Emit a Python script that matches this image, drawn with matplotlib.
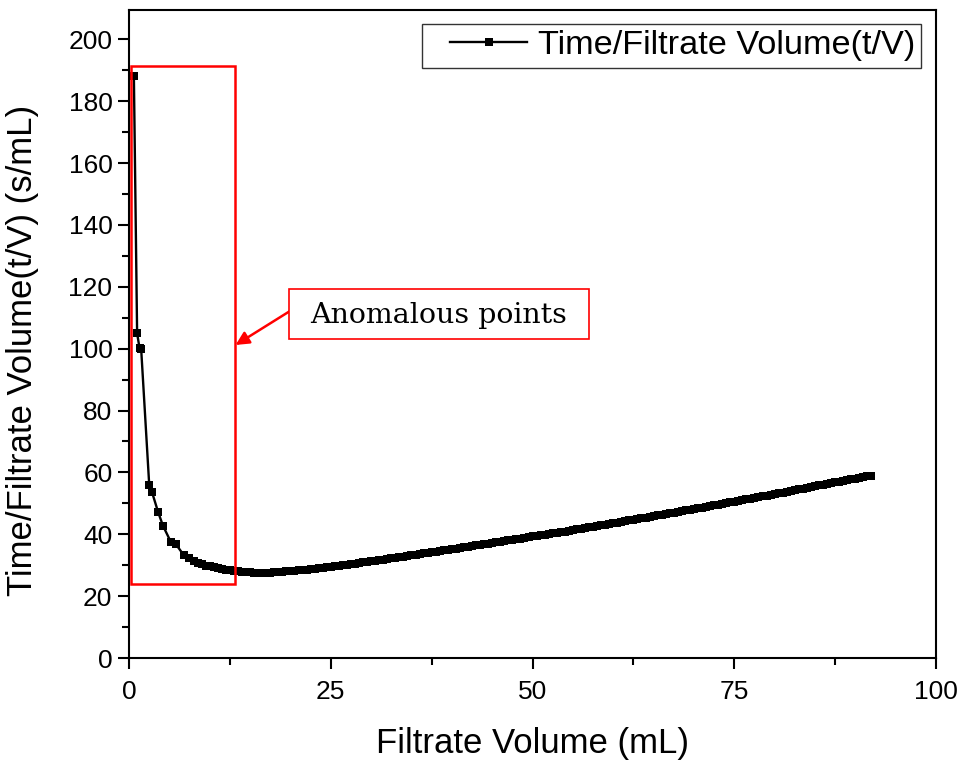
import matplotlib
matplotlib.use("Agg")
import matplotlib.pyplot as plt
from matplotlib.ticker import MultipleLocator
from matplotlib.patches import Rectangle
from matplotlib.legend_handler import HandlerLine2D

# Filtrate volume (mL) and t/V (s/mL)
volume_early = [0.6, 1.0, 1.3, 1.5, 2.5, 2.85, 3.6, 4.2, 5.2, 5.8, 6.8, 7.4, 8.0, 8.5]
tv_early = [188.0, 105.0, 100.2, 100.0, 56.0, 53.6, 47.2, 42.8, 37.4, 36.8, 33.2, 32.2,
            31.4, 30.8]

volume_late = [
    9.0, 9.5, 10.0, 10.5, 11.0, 11.5, 12.0, 12.5, 13.0, 13.5, 14.0, 14.5, 15.0, 15.5,
    16.0, 16.5, 17.0, 17.5, 18.0, 18.5, 19.0, 19.5, 20.0, 20.5, 21.0, 21.5, 22.0, 22.5,
    23.0, 23.5, 24.0, 24.5, 25.0, 25.5, 26.0, 26.5, 27.0, 27.5, 28.0, 28.5, 29.0, 29.5,
    30.0, 30.5, 31.0, 31.5, 32.0, 32.5, 33.0, 33.5, 34.0, 34.5, 35.0, 35.5, 36.0, 36.5,
    37.0, 37.5, 38.0, 38.5, 39.0, 39.5, 40.0, 40.5, 41.0, 41.5, 42.0, 42.5, 43.0, 43.5,
    44.0, 44.5, 45.0, 45.5, 46.0, 46.5, 47.0, 47.5, 48.0, 48.5, 49.0, 49.5, 50.0, 50.5,
    51.0, 51.5, 52.0, 52.5, 53.0, 53.5, 54.0, 54.5, 55.0, 55.5, 56.0, 56.5, 57.0, 57.5,
    58.0, 58.5, 59.0, 59.5, 60.0, 60.5, 61.0, 61.5, 62.0, 62.5, 63.0, 63.5, 64.0, 64.5,
    65.0, 65.5, 66.0, 66.5, 67.0, 67.5, 68.0, 68.5, 69.0, 69.5, 70.0, 70.5, 71.0, 71.5,
    72.0, 72.5, 73.0, 73.5, 74.0, 74.5, 75.0, 75.5, 76.0, 76.5, 77.0, 77.5, 78.0, 78.5,
    79.0, 79.5, 80.0, 80.5, 81.0, 81.5, 82.0, 82.5, 83.0, 83.5, 84.0, 84.5, 85.0, 85.5,
    86.0, 86.5, 87.0, 87.5, 88.0, 88.5, 89.0, 89.5, 90.0, 90.5, 91.0, 91.5, 92.0]
tv_late = [
    30.3, 29.9, 29.6, 29.3, 29.1, 28.8, 28.6, 28.4, 28.2, 28.0, 27.9, 27.8, 27.7, 27.6,
    27.6, 27.6, 27.6, 27.6, 27.7, 27.8, 27.9, 28.0, 28.1, 28.2, 28.3, 28.4, 28.6, 28.7,
    28.9, 29.0, 29.2, 29.4, 29.5, 29.7, 29.9, 30.0, 30.2, 30.4, 30.5, 30.7, 30.9, 31.1,
    31.3, 31.5, 31.6, 31.8, 32.0, 32.2, 32.4, 32.6, 32.8, 33.0, 33.2, 33.4, 33.6, 33.8,
    34.0, 34.2, 34.4, 34.6, 34.8, 35.0, 35.2, 35.4, 35.6, 35.8, 36.0, 36.2, 36.4, 36.6,
    36.8, 37.0, 37.2, 37.4, 37.6, 37.8, 38.0, 38.2, 38.4, 38.6, 38.8, 39.0, 39.3, 39.5,
    39.7, 39.9, 40.1, 40.3, 40.5, 40.7, 40.9, 41.1, 41.4, 41.6, 41.8, 42.0, 42.2, 42.4,
    42.7, 42.9, 43.1, 43.3, 43.6, 43.8, 44.0, 44.3, 44.5, 44.7, 44.9, 45.2, 45.4, 45.6,
    45.8, 46.1, 46.3, 46.6, 46.8, 47.0, 47.2, 47.5, 47.7, 48.0, 48.2, 48.4, 48.6, 48.9,
    49.1, 49.4, 49.6, 49.9, 50.1, 50.4, 50.6, 50.8, 51.0, 51.3, 51.5, 51.8, 52.0, 52.3,
    52.5, 52.8, 53.0, 53.3, 53.5, 53.8, 54.0, 54.3, 54.5, 54.8, 55.0, 55.3, 55.5, 55.8,
    56.0, 56.3, 56.5, 56.8, 57.0, 57.3, 57.5, 57.8, 58.0, 58.3, 58.5, 58.8, 59.0]

volume = volume_early + volume_late
tv = tv_early + tv_late

series_label = "Time/Filtrate Volume(t/V)"
x_label = "Filtrate Volume (mL)"
y_label = "Time/Filtrate Volume(t/V) (s/mL)"
annotation_text = "Anomalous points"

plt.rcParams['font.family'] = ['Liberation Sans', 'DejaVu Sans']

fig = plt.figure(figsize=(9.63, 7.68), dpi=100)
ax = fig.add_axes([0.134, 0.1432, 0.838, 0.8438])

ax.plot(volume, tv, color='black', lw=1.7, marker='s', markersize=6.2,
        markeredgewidth=0, label=series_label)

ax.set_xlim(0, 100)
ax.set_ylim(0, 209.5)
ax.xaxis.set_major_locator(MultipleLocator(25))
ax.xaxis.set_minor_locator(MultipleLocator(12.5))
ax.yaxis.set_major_locator(MultipleLocator(20))
ax.yaxis.set_minor_locator(MultipleLocator(10))
ax.tick_params(which='major', direction='out', length=8, width=1.5, labelsize=19)
ax.tick_params(axis='x', which='major', pad=7.5)
ax.tick_params(axis='y', which='major', pad=4)
ax.tick_params(which='minor', direction='out', length=5, width=1.5)
ax.tick_params(top=False, right=False, which='both')
for s in ax.spines.values():
    s.set_linewidth(1.5)

ax.set_xlabel(x_label, fontsize=25, labelpad=17)
ax.set_ylabel(y_label, fontsize=25)
ax.yaxis.set_label_coords(-0.111, 0.475)

leg = ax.legend(loc='upper right', fontsize=24.7, frameon=True, fancybox=False,
                edgecolor='black', handlelength=2.9, handletextpad=0.3,
                borderpad=0.18, borderaxespad=0.0, markerscale=0.85,
                bbox_to_anchor=(0.9814, 0.978),
                handler_map={matplotlib.lines.Line2D: HandlerLine2D(xpad=0.65)})
leg.get_frame().set_linewidth(1.0)

# Red rectangle around anomalous points
rect = Rectangle((0.25, 23.9), 12.85, 167.4, fill=False, edgecolor='red', lw=1.8,
                 zorder=5)
ax.add_patch(rect)

# Annotation box, text and arrow
box = Rectangle((0.1983, 0.4923), 0.3717, 0.0771, transform=ax.transAxes,
                fill=True, facecolor='white', edgecolor='red', lw=1.2, zorder=6)
ax.add_patch(box)
ax.text(0.384, 0.529, annotation_text, transform=ax.transAxes, fontsize=20.5,
        family=['DejaVu Serif'], ha='center', va='center', zorder=7)
ax.annotate('', xy=(13.2, 101.2), xycoords='data',
            xytext=(0.1995, 0.5355), textcoords='axes fraction',
            arrowprops=dict(arrowstyle='-|>', color='red', lw=1.8,
                            mutation_scale=20, shrinkA=0, shrinkB=0))

fig.savefig("out.png", dpi=100)
